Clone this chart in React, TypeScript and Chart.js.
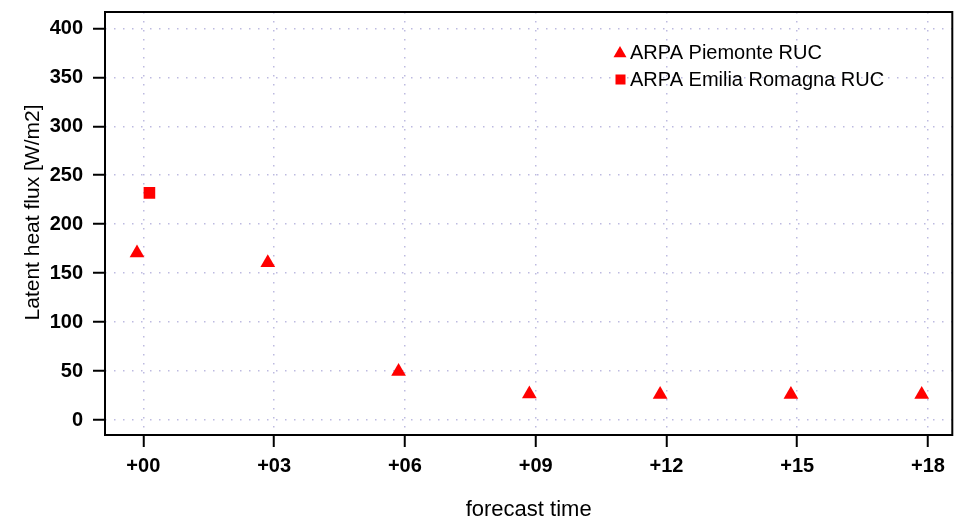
import React, { useEffect, useRef } from "react";
import { Chart, registerables } from "chart.js";

Chart.register(...registerables);

// ---- data ----
const forecastHours = [0, 3, 6, 9, 12, 15, 18];
const piemonteValues = [170.5, 160.5, 49.5, 26.7, 26.0, 26.0, 26.0];
const emiliaHours = [0];
const emiliaValues = [232];
const xTickValues = [0, 3, 6, 9, 12, 15, 18];
const xTickLabels = ["+00", "+03", "+06", "+09", "+12", "+15", "+18"];
const yTickValues = [0, 50, 100, 150, 200, 250, 300, 350, 400];
const seriesLabels = ["ARPA Piemonte RUC", "ARPA Emilia Romagna RUC"];

// ---- style ----
const DODGE_LEFT = -0.145;
const DODGE_RIGHT = 0.14;
const RED = "#ff0000";
const FONT = '"Liberation Sans", Arial, Helvetica, sans-serif';
const GRID_COLOR = "rgba(185,182,222,0.95)";

const framePlugin = {
  id: "frame",
  afterDraw(chart: any) {
    const { ctx, chartArea: a } = chart;
    ctx.save();
    ctx.strokeStyle = "#000";
    ctx.lineWidth = 2;
    ctx.strokeRect(a.left, a.top, a.right - a.left, a.bottom - a.top);
    ctx.restore();
  },
};

const legendPlugin = {
  id: "customLegend",
  afterDraw(chart: any) {
    const { ctx } = chart;
    ctx.save();
    ctx.fillStyle = RED;
    // triangle
    const tx = 620, ty = 53.5, tr = 7.5;
    ctx.beginPath();
    ctx.moveTo(tx, ty - tr);
    ctx.lineTo(tx + tr * Math.sin((2 * Math.PI) / 3), ty - tr * Math.cos((2 * Math.PI) / 3));
    ctx.lineTo(tx + tr * Math.sin((4 * Math.PI) / 3), ty - tr * Math.cos((4 * Math.PI) / 3));
    ctx.closePath();
    ctx.fill();
    // square
    ctx.fillRect(615.5, 74.5, 10, 10);
    ctx.fillStyle = "#000";
    ctx.font = `20px ${FONT}`;
    ctx.textAlign = "left";
    ctx.textBaseline = "alphabetic";
    ctx.fillText(chart.data.datasets[0].label, 630, 59);
    ctx.fillText(chart.data.datasets[1].label, 630, 86);
    ctx.restore();
  },
};

const titlesPlugin = {
  id: "axisTitles",
  afterDraw(chart: any) {
    const { ctx, chartArea: a } = chart;
    ctx.save();
    ctx.fillStyle = "#000";
    ctx.textAlign = "center";
    ctx.textBaseline = "alphabetic";
    ctx.font = `22px ${FONT}`;
    ctx.fillText("forecast time", (a.left + a.right) / 2, 516);
    ctx.font = `21px ${FONT}`;
    ctx.translate(39, 212.5);
    ctx.rotate(-Math.PI / 2);
    ctx.fillText("Latent heat flux [W/m2]", 0, 0);
    ctx.restore();
  },
};

export default function App() {
  const canvasRef = useRef<HTMLCanvasElement | null>(null);

  useEffect(() => {
    if (!canvasRef.current) return;
    const tickFont = { family: FONT, size: 20, weight: "bold" as const };
    const chart = new Chart(canvasRef.current, {
      type: "scatter",
      data: {
        datasets: [
          {
            label: seriesLabels[0],
            data: forecastHours.map((h, i) => ({ x: h + DODGE_LEFT, y: piemonteValues[i] })),
            pointStyle: "triangle",
            pointRadius: 8.5,
            pointHoverRadius: 8.5,
            backgroundColor: RED,
            borderColor: RED,
            borderWidth: 0,
          },
          {
            label: seriesLabels[1],
            data: emiliaHours.map((h, i) => ({ x: h + DODGE_RIGHT, y: emiliaValues[i] })),
            pointStyle: "rect",
            pointRadius: 8.2,
            pointHoverRadius: 8.2,
            backgroundColor: RED,
            borderColor: RED,
            borderWidth: 0,
          },
        ],
      },
      options: {
        animation: false,
        responsive: true,
        maintainAspectRatio: false,
        layout: { padding: { top: 12, right: 9.7, left: 0, bottom: 0 } },
        plugins: {
          legend: { display: false },
          tooltip: { enabled: false },
          title: { display: false },
        },
        scales: {
          x: {
            type: "linear",
            min: -0.879,
            max: 18.557,
            afterBuildTicks: (s: any) => {
              s.ticks = xTickValues.map((v) => ({ value: v }));
            },
            afterFit: (s: any) => {
              s.height = 87;
              s.paddingLeft = 0;
              s.paddingRight = 0;
            },
            ticks: {
              autoSkip: false,
              maxRotation: 0,
              minRotation: 0,
              padding: 7,
              color: "#000",
              font: tickFont,
              callback: (v: any) => {
                const i = xTickValues.indexOf(Number(v));
                return i >= 0 ? xTickLabels[i] : "";
              },
            },
            grid: {
              color: GRID_COLOR,
              lineWidth: 1.5,
              tickColor: "#000",
              tickWidth: 2,
              tickLength: 12,
              tickBorderDash: [],
            },
            border: { display: false, dash: [1.5, 7.5] },
          },
          y: {
            type: "linear",
            min: -15.3,
            max: 416.7,
            afterBuildTicks: (s: any) => {
              s.ticks = yTickValues.map((v) => ({ value: v }));
            },
            afterFit: (s: any) => {
              s.width = 105;
              s.paddingTop = 0;
              s.paddingBottom = 0;
            },
            ticks: {
              padding: 10,
              color: "#000",
              font: tickFont,
              callback: (v: any) => String(v),
            },
            grid: {
              color: GRID_COLOR,
              lineWidth: 1.5,
              tickColor: "#000",
              tickWidth: 2,
              tickLength: 12,
              tickBorderDash: [],
            },
            border: { display: false, dash: [1.5, 7.5] },
          },
        },
      },
      plugins: [framePlugin, legendPlugin, titlesPlugin],
    });
    return () => chart.destroy();
  }, []);

  return (
    <div style={{ position: "absolute", left: 0, top: 0, width: 962, height: 522, background: "#fff" }}>
      <canvas ref={canvasRef} />
    </div>
  );
}
